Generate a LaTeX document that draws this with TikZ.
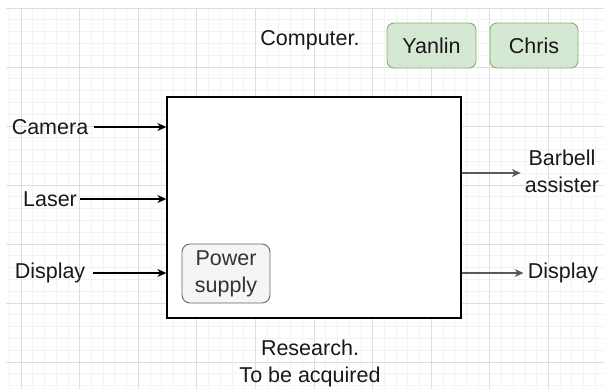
\documentclass[tikz,border=0pt]{standalone}
\usepackage{fontspec}
\setmainfont{Liberation Sans}
\usetikzlibrary{arrows.meta}
\definecolor{grismaj}{HTML}{DEDEDE}
\definecolor{grismin}{HTML}{F3F3F3}
\definecolor{vertfond}{HTML}{D5E8D4}
\definecolor{vertbord}{HTML}{82B366}
\definecolor{grisfond}{HTML}{F5F5F5}
\definecolor{grisbord}{HTML}{666666}
\definecolor{gristexte}{HTML}{333333}
\begin{document}
\begin{tikzpicture}[x=1pt,y=-1pt,
    every node/.style={font=\fontsize{21.5}{27}\selectfont,inner sep=3pt,text=black!90},
    fleche/.style={-{Stealth[length=9pt,width=8pt]},line width=1.1pt},
    nom/.style={draw=vertbord,fill=vertfond,rounded corners=7pt,line width=0.9pt,
        minimum height=45pt},
    sortie/.style={fleche,draw=black!65}]
    \useasboundingbox (0,0) rectangle (604,389);
    % Quadrillage de fond (fin puis principal)
    \foreach \x in {9.3,21.02,...,604} {
        \draw[grismin,line width=0.8pt] (\x,8) -- (\x,389);}
    \foreach \y in {8,19.8,...,389} {
        \draw[grismin,line width=0.8pt] (6,\y) -- (604,\y);}
    \foreach \x in {21,79.6,...,604} {
        \draw[grismaj,line width=1pt] (\x,8) -- (\x,389);}
    \foreach \y in {8,67,...,389} {
        \draw[grismaj,line width=1pt] (6,\y) -- (604,\y);}
    % Bloc principal
    \node[draw,fill=white,line width=1.3pt,minimum width=294pt,minimum height=221pt]
        (sys) at (314,207.5) {};
    % Alimentation
    \node[draw=grisbord,fill=grisfond,text=gristexte,rounded corners=8pt,line width=0.9pt,
        minimum width=88pt,minimum height=59pt,align=center,inner sep=1pt] (alim) at (226,273.5)
        {Power\\supply};
    % Entrees
    \node (camera) at (50,127) {Camera};
    \node (laser) at (50,199) {Laser};
    \node (ecran) at (50,273) {Display};
    \draw[fleche] ([xshift=3pt]camera.east) -- (camera -| sys.west);
    \draw[fleche] (laser.east) -- (laser -| sys.west);
    \draw[fleche] ([xshift=5pt]ecran.east) -- (ecran -| sys.west);
    % Sorties
    \node[align=center,inner sep=4pt] (barre) at (562,171.5) {Barbell\\assister};
    \node[inner sep=4pt] (ecransortie) at (563,273) {Display};
    \draw[sortie] ([yshift=-1.5pt]sys.east |- barre.west) -- ([yshift=-1.5pt]barre.west);
    \draw[sortie] (sys.east |- ecransortie.west) -- (ecransortie.west);
    % Textes et noms
    \node (recherche) at (310,363.5) [align=center] {Research.\\To be acquired};
    \node (ordi) at (310,40) {Computer.};
    \node[nom,minimum width=89pt] (yanlin) at (431.5,45.5) {Yanlin};
    \node[nom,minimum width=88pt] (chris) at (534,45.5) {Chris};
\end{tikzpicture}
\end{document}
